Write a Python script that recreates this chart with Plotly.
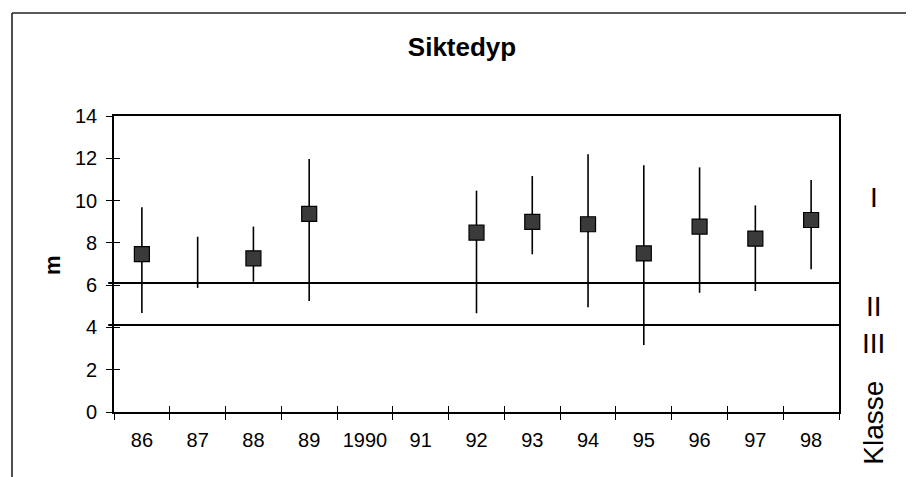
import plotly.graph_objects as go

years = ["86", "87", "88", "89", "1990", "91", "92", "93", "94", "95", "96", "97", "98"]
mean_depth = [7.47, None, 7.27, 9.37, None, None, 8.48, 8.99, 8.88, 7.50, 8.77, 8.20, 9.08]
max_depth = [9.68, 8.29, 8.77, 11.97, None, None, 10.47, 11.16, 12.19, 11.67, 11.57, 9.77, 10.97]
min_depth = [4.68, 5.87, 6.16, 5.25, None, None, 4.67, 7.46, 4.95, 3.17, 5.64, 5.72, 6.75]
class_limits = [6.1, 4.12]
class_labels = ["I", "II", "III"]
y_ticks = [0, 2, 4, 6, 8, 10, 12, 14]

FONT = "Arial, Liberation Sans, sans-serif"

# range lines (min to max) per year
rx, ry = [], []
for yr, lo, hi in zip(years, min_depth, max_depth):
    if lo is None or hi is None:
        continue
    rx += [yr, yr, None]
    ry += [lo, hi, None]

fig = go.Figure()
fig.add_trace(go.Scatter(x=rx, y=ry, mode="lines", line=dict(color="black", width=1.6),
                         hoverinfo="skip", showlegend=False))
fig.add_trace(go.Scatter(x=years, y=mean_depth, mode="markers",
                         marker=dict(symbol="square", size=15, color="#3a3a3a",
                                     line=dict(color="black", width=1.2)),
                         showlegend=False))

for v in class_limits:
    fig.add_shape(type="line", xref="paper", yref="y", x0=-0.008, x1=1.002, y0=v, y1=v,
                  line=dict(color="black", width=2))

# outer chart frame (top and left edges visible)
fig.add_shape(type="line", xref="paper", yref="paper", x0=-0.1407, x1=1.11, y0=1.348, y1=1.348,
              line=dict(color="#222", width=1.6))
fig.add_shape(type="line", xref="paper", yref="paper", x0=-0.1407, x1=-0.1407, y0=1.348, y1=-0.23,
              line=dict(color="#222", width=1.6))

ann = []
for lab, yp in zip(class_labels, [0.726, 0.355, 0.233]):
    ann.append(dict(text=lab, x=1.048, y=yp, xref="paper", yref="paper", showarrow=False,
                    font=dict(family=FONT, size=28, color="black"), xanchor="center", yanchor="middle"))
ann.append(dict(text="Klasse", x=1.048, y=-0.037, xref="paper", yref="paper", showarrow=False,
                textangle=-90, font=dict(family=FONT, size=28, color="black"),
                xanchor="center", yanchor="middle"))
ann.append(dict(text="<b>m</b>", x=-0.084, y=0.497, xref="paper", yref="paper", showarrow=False,
                textangle=-90, font=dict(family=FONT, size=22, color="black"),
                xanchor="center", yanchor="middle"))

fig.update_layout(
    width=906, height=469,
    margin=dict(l=106, r=75, t=108, b=65),
    paper_bgcolor="white", plot_bgcolor="white",
    title=dict(text="<b>Siktedyp</b>", x=0.48, xref="paper", y=1 - 39 / 469, yref="container",
               xanchor="center", yanchor="middle", font=dict(family=FONT, size=26, color="black")),
    annotations=ann,
    xaxis=dict(type="category", categoryorder="array", categoryarray=years, range=[-0.5, 12.5],
               tickson="boundaries", ticks="outside", ticklen=6, tickwidth=1.3, tickcolor="black",
               showline=True, linecolor="black", linewidth=1.6, mirror=True, showgrid=False,
               tickfont=dict(family=FONT, size=20, color="black"), ticklabelstandoff=9,
               zeroline=False),
    yaxis=dict(range=[0, 14], tickvals=y_ticks, ticks="outside", ticklen=6, tickwidth=1.3,
               tickcolor="black", showline=True, linecolor="black", linewidth=1.6, mirror=True,
               showgrid=False, zeroline=False, tickfont=dict(family=FONT, size=20, color="black"),
               ticklabelstandoff=5),
    xaxis2=dict(overlaying="x", range=[-0.5, 12.5], tickvals=[i - 0.5 for i in range(len(years) + 1)],
                ticks="inside", ticklen=6, tickwidth=1.3, tickcolor="black", showticklabels=False,
                showgrid=False, zeroline=False, side="bottom", anchor="y"),
    yaxis2=dict(overlaying="y", range=[0, 14], tickvals=y_ticks, ticks="inside", ticklen=6,
                tickwidth=1.3, tickcolor="black", showticklabels=False, showgrid=False,
                zeroline=False, side="left", anchor="x"),
)
# invisible trace to make overlay axes render
fig.add_trace(go.Scatter(x=[0], y=[0], xaxis="x2", yaxis="y2", mode="markers",
                         marker=dict(opacity=0), hoverinfo="skip", showlegend=False))

fig.write_html("out.html")
